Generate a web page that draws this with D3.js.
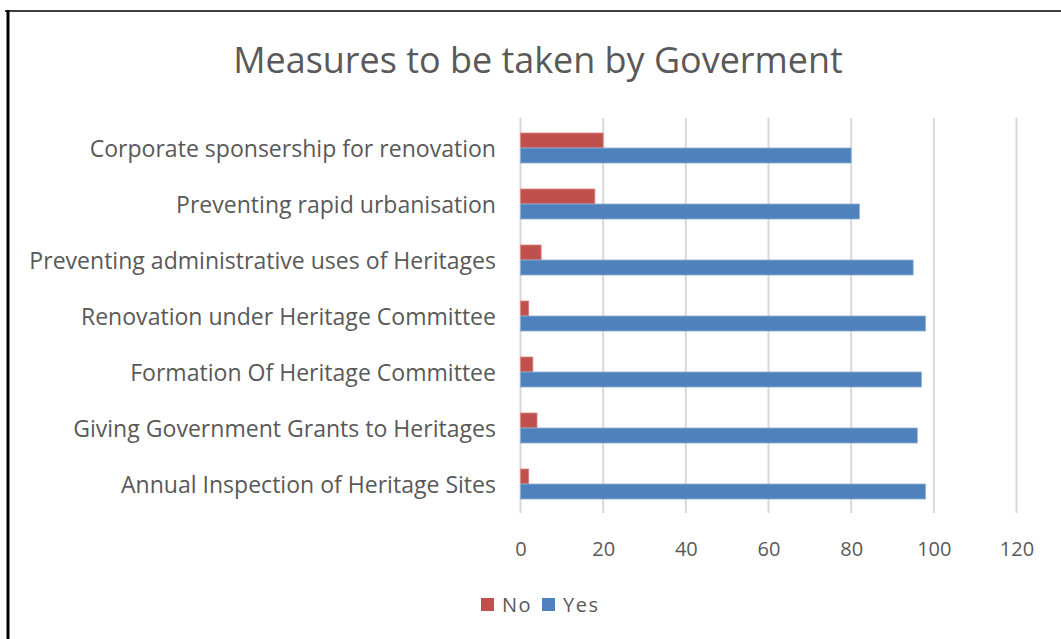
<!DOCTYPE html>
<html>
<head>
<meta charset="utf-8">
<script src="https://cdn.jsdelivr.net/npm/d3@7"></script>
<style>
  html, body { margin: 0; padding: 0; background: #fff; }
  svg { display: block; }
  text { font-family: "Open Sans", "Noto Sans", sans-serif; fill: #595959; }
</style>
</head>
<body>
<svg id="chart" width="1061" height="639"></svg>
<script>
const title = "Measures to be taken by Goverment";
const categories = [
  "Corporate sponsership for renovation",
  "Preventing rapid urbanisation",
  "Preventing administrative uses of Heritages",
  "Renovation under Heritage Committee",
  "Formation Of Heritage Committee",
  "Giving Government Grants to Heritages",
  "Annual Inspection of Heritage Sites"
];
const seriesNames = ["No", "Yes"];
const noValues  = [20, 18, 5, 2, 3, 4, 2];
const yesValues = [80, 82, 95, 98, 97, 96, 98];
const xTicks = [0, 20, 40, 60, 80, 100, 120];
const colors = { No: "#c0504d", Yes: "#4f81bd" };

const svg = d3.select("#chart");

// frame
svg.append("line").attr("x1", 5).attr("x2", 1061).attr("y1", 11).attr("y2", 11)
  .attr("stroke", "#404040").attr("stroke-width", 2);
svg.append("line").attr("x1", 8).attr("x2", 8).attr("y1", 10).attr("y2", 639)
  .attr("stroke", "#000").attr("stroke-width", 3);

const x = d3.scaleLinear().domain([0, 120]).range([520.5, 1016.5]);
const p = 0.4643;
const y = d3.scaleBand().domain(categories).range([120, 512]).paddingInner(p).paddingOuter(p / 2);
const ySub = d3.scaleBand().domain(seriesNames).range([0, y.bandwidth()]);

// gridlines
svg.append("g").selectAll("line").data(xTicks).join("line")
  .attr("x1", d => x(d)).attr("x2", d => x(d))
  .attr("y1", 118).attr("y2", 513)
  .attr("stroke", "#d9d9d9").attr("stroke-width", 2);

// bars
const rows = categories.map((c, i) => ({ cat: c, No: noValues[i], Yes: yesValues[i] }));
const g = svg.append("g");
seriesNames.forEach(s => {
  g.selectAll("rect." + s).data(rows).join("rect")
    .attr("class", s)
    .attr("x", x(0))
    .attr("y", d => y(d.cat) + ySub(s))
    .attr("width", d => x(d[s]) - x(0))
    .attr("height", ySub.bandwidth())
    .attr("fill", colors[s])
    .attr("stroke", s === "No" ? "#d98a88" : "#8fb0d8")
    .attr("stroke-width", 0.8);
});

// x axis labels
const xAxis = d3.axisBottom(x).tickValues(xTicks).tickSize(0).tickPadding(0);
const xg = svg.append("g").attr("transform", "translate(0,540)").call(xAxis);
xg.select(".domain").remove();
xg.selectAll("text").attr("font-size", 20).attr("dy", "0.8em")
  .style("font-family", '"Open Sans", "Noto Sans", sans-serif').attr("fill", "#595959");

// y axis labels
const yAxis = d3.axisLeft(y).tickSize(0).tickPadding(0);
const yg = svg.append("g").attr("transform", "translate(496,2)").call(yAxis);
yg.select(".domain").remove();
yg.selectAll("text").attr("font-size", 19)
  .style("font-family", '"Open Sans", "Noto Sans", sans-serif').attr("fill", "#595959");
let maxW = 0;
yg.selectAll("text").each(function () { maxW = Math.max(maxW, this.getComputedTextLength()); });
const ls = 19 * 467 / maxW;
yg.selectAll("text").attr("font-size", ls);

// title
const t = svg.append("text").attr("x", 538).attr("y", 73)
  .attr("text-anchor", "middle").attr("font-size", 36).text(title);
const tw = t.node().getComputedTextLength();
t.attr("font-size", 36 * 610 / tw);

// legend
const legend = svg.append("g").attr("transform", "translate(481,598)");
const items = [{ n: "No", x: 0 }, { n: "Yes", x: 61 }];
items.forEach(it => {
  legend.append("rect").attr("x", it.x).attr("y", 0).attr("width", 13).attr("height", 13)
    .attr("fill", colors[it.n]);
  legend.append("text").attr("x", it.x + 21).attr("y", 14).attr("font-size", 20)
    .attr("letter-spacing", 1.5).text(it.n);
});
</script>
</body>
</html>
